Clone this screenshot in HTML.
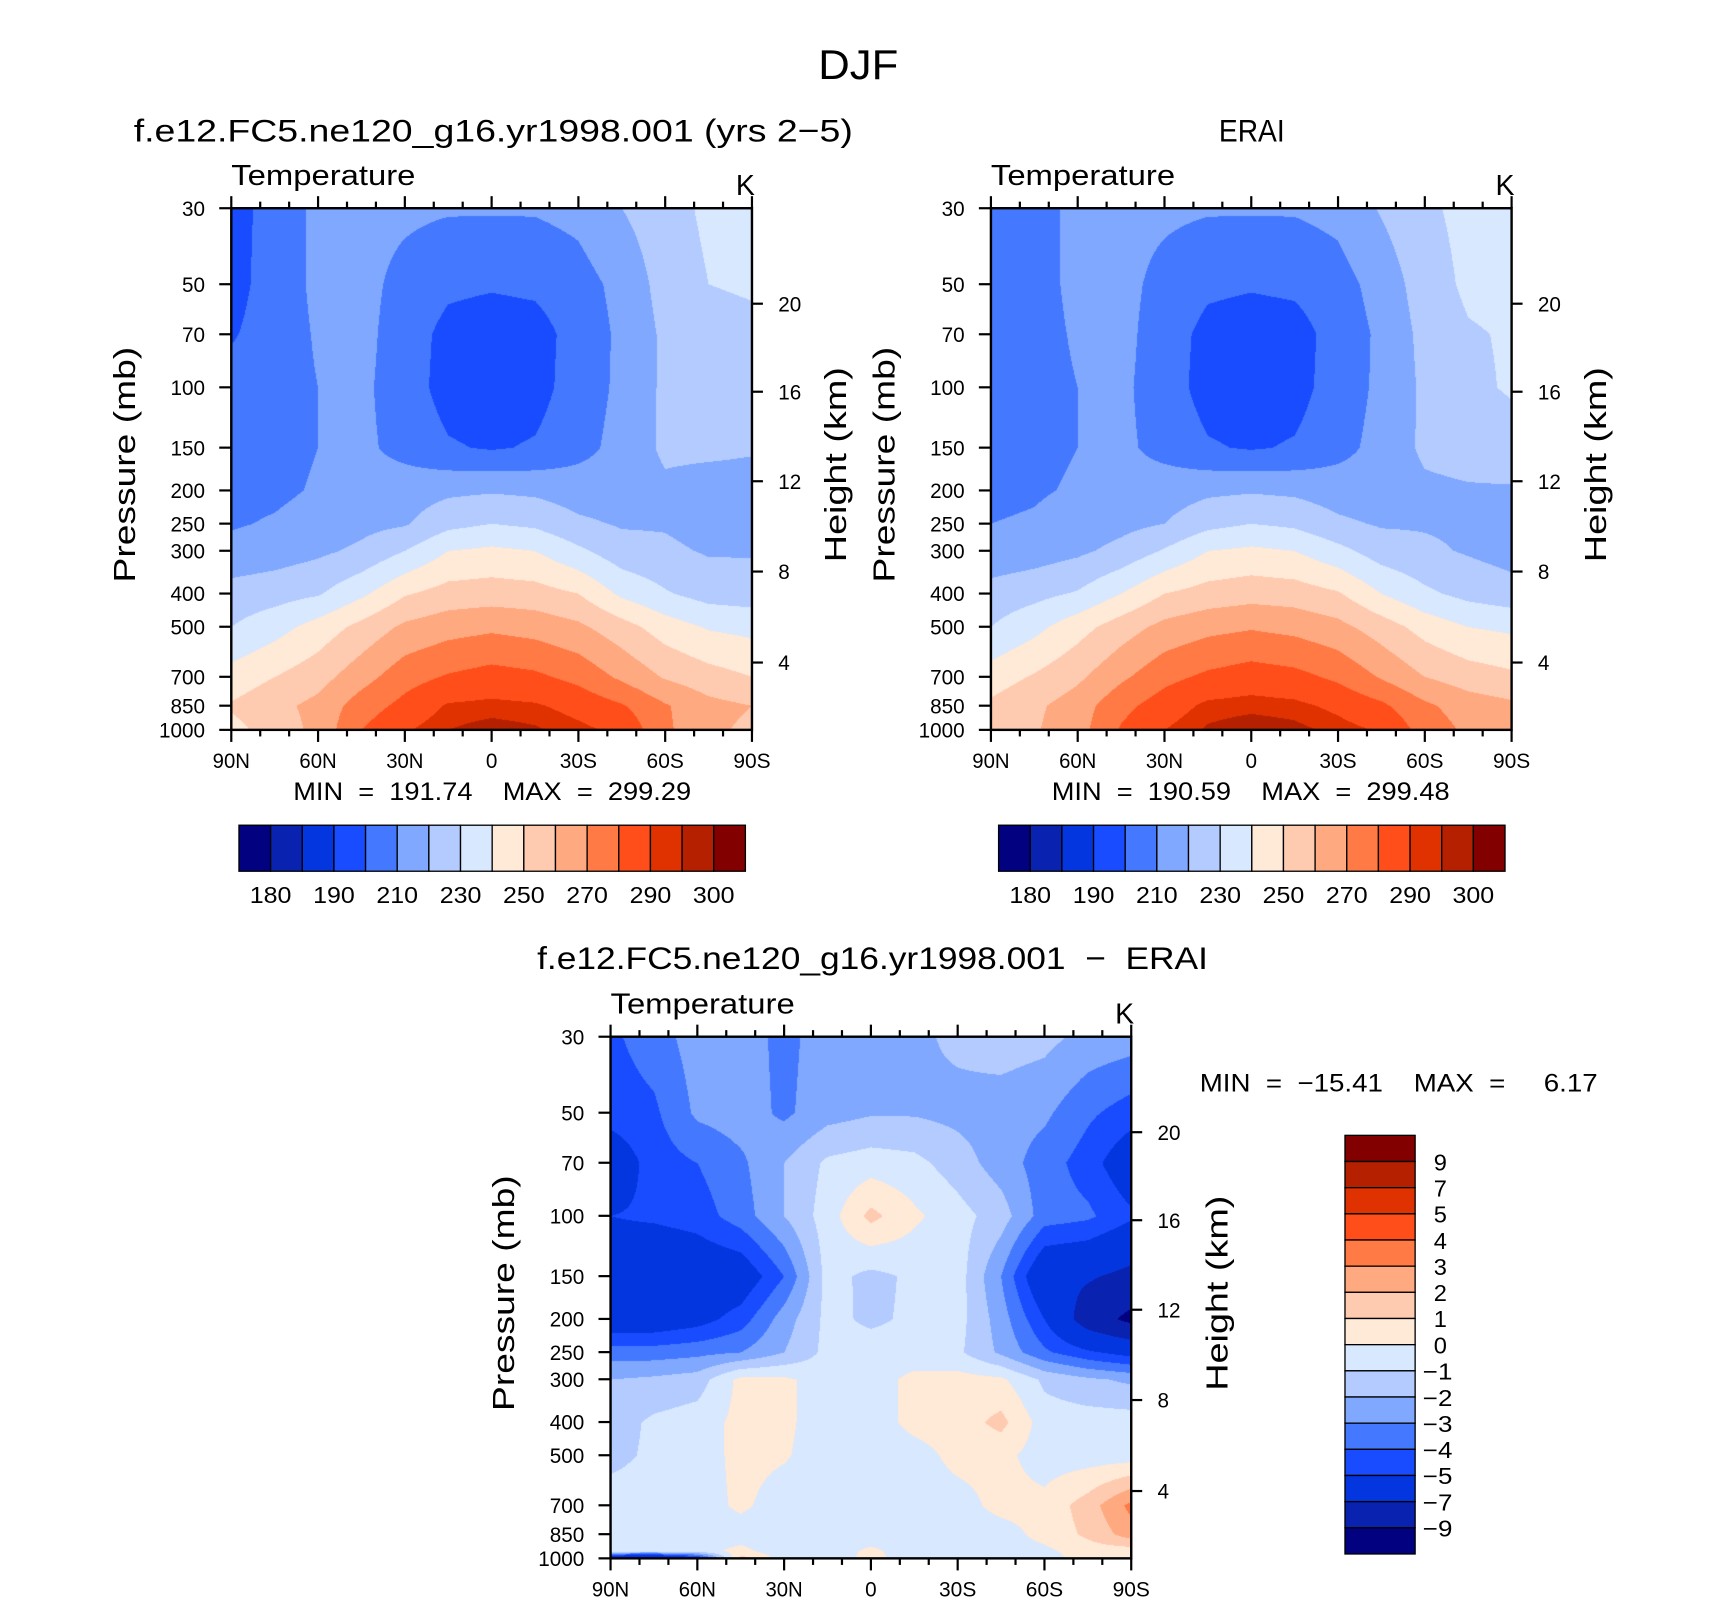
<!DOCTYPE html>
<html><head><meta charset="utf-8">
<style>
html,body{margin:0;padding:0;background:#fff;}
#wrap{position:relative;width:1710px;height:1600px;overflow:hidden;}
#cv,#sv{position:absolute;left:0;top:0;}
text{font-family:"Liberation Sans",sans-serif;fill:#000;}
</style></head>
<body>
<div id="wrap">
<canvas id="cv" width="1710" height="1600"></canvas>
<svg id="sv" width="1710" height="1600" viewBox="0 0 1560 1460" preserveAspectRatio="none"></svg>
</div>
<script>
const lats = [90,75,60,45,30,15,0,-15,-30,-45,-60,-75,-90];
const latLabels = ["90N","60N","30N","0","30S","60S","90S"];
const latTicks = [90,60,30,0,-30,-60,-90];
const pLevels = [30,50,70,100,150,200,250,300,400,500,700,850,1000];
const pTickLabels = [30,50,70,100,150,200,250,300,400,500,700,850,1000];
const hTickLabels = [20,16,12,8,4];
const hTickP = [57,103,188,345,636];
const absLevels = [180,185,190,200,210,220,230,240,250,260,270,280,290,295,300];
const absLabels = ["180","190","210","230","250","270","290","300"];
const diffLevels = [-9,-7,-5,-4,-3,-2,-1,0,1,2,3,4,5,7,9];
const diffLabels = ["9","7","5","4","3","2","1","0","\u22121","\u22122","\u22123","\u22124","\u22125","\u22127","\u22129"];
const colors = ["#020280","#0a22b0","#0436e0","#1a4cff","#4478ff","#80a8ff","#b3cbff","#d7e8ff","#ffe9d7","#ffcbb0","#ffa980","#ff7a45","#ff4e1a","#e03200","#b42000","#820000"];

const modelT = [
[195,205,212,213,212,211,211,211,213,220,226,232,236],
[196,205,212,213,207,202,201,202,206,213,224,230,231],
[199,205,211,213,205,197,195,196,204,212,222,227,228],
[204,206,210,212,205,196,195,196,205,212,222,226,227],
[206,207,210,212,207,201,199,201,207,213,222,222,221],
[207,208,211,213,215,218,219,218,215,214,218,216,216],
[209,211,214,217,219,227,230,228,222,219,219,216,216],
[213,215,218,222,230,240,242,240,232,224,222,219,219],
[224,226,229,238,249,254,255,254,250,238,231,226,225],
[230,236,244,253,262,266,268,266,262,254,245,239,237],
[244,250,256,266,276,281,284,282,277,268,259,254,250],
[251,257,263,275,283,291,292,291,287,281,271,263,260],
[247,254,263,280,289,295,298,296,292,288,272,262,258]];
const eraT = [
[204,207,212,213,212,211,211,211,213,221,228,233,236],
[205,207,212,213,207,202,201,202,206,214,225,232,233],
[205,207,211,213,205,197,195,196,204,212,223,229,231],
[206,207,210,212,205,196,195,196,205,212,222,228,231],
[208,208,210,212,207,201,199,201,207,213,222,224,226],
[208,209,211,213,215,218,219,218,215,214,218,219,219],
[210,211,214,217,220,227,230,228,222,219,219,218,216],
[213,215,218,223,231,240,242,240,233,225,222,219,216],
[224,227,231,240,250,254,256,255,251,240,232,227,224],
[230,237,246,255,263,267,269,267,263,255,246,240,238],
[245,251,258,268,277,282,285,283,278,269,260,255,252],
[252,258,265,277,285,292,293,292,288,282,272,265,262],
[254,259,266,281,290,296,299,297,293,289,276,268,264]];
const diffPLevels = [30,50,70,100,150,200,250,300,400,500,700,850,950,1000];
const diffT = [
[-4.2,-3.5,-2.5,-2.5,-3.3,-2.5,-2.3,-2.2,-1.8,-1.5,-1.7,-2.3,-2.5],
[-4.5,-4.2,-2.8,-2.5,-3.2,-2.4,-2.1,-2.1,-2.3,-2.5,-2.8,-3.8,-4.5],
[-6,-4.5,-4,-3.2,-2,-0.8,-0.5,-0.7,-1.5,-2.5,-3.5,-4.5,-6],
[-5,-4.8,-4.5,-3.5,-2,-0.5,1.3,0.2,-0.6,-1.5,-3.5,-3.8,-4.8],
[-6,-6.5,-6.2,-6,-4,-0.6,-1.3,-0.8,-0.5,-3,-6.5,-6.8,-7.5],
[-6,-6,-5.5,-4.5,-2.5,-0.7,-1.2,-0.8,-0.6,-2.5,-5,-8,-9.5],
[-3.5,-3.5,-3.3,-3,-2,-0.7,-0.5,-0.6,-0.8,-2.2,-3.8,-4.8,-5.5],
[-2,-1.8,-1.5,0.3,0.2,-0.5,-0.5,0.3,0.4,0.2,-1.2,-1.8,-2.2],
[-1.5,-0.8,-0.5,0.3,0.2,-0.5,-0.5,0.3,0.5,1.3,-0.5,-0.5,-0.5],
[-1.3,-0.8,-0.5,0.3,0.1,-0.5,-0.6,-0.4,0.3,0.3,-0.5,-0.5,-0.5],
[-0.5,-0.5,-0.5,0.2,-0.5,-0.5,-0.5,-0.5,-0.4,0.3,0.3,1.5,3.3],
[-0.5,-0.5,-0.4,-0.5,-0.6,-0.5,-0.5,-0.5,-0.5,-0.4,0.3,1.2,2.5],
[-0.5,-0.5,-0.4,0.3,-0.6,-0.5,0.2,-0.5,-0.5,-0.4,-0.2,0.5,0.5],
[-8,-9,-6,1.5,-0.5,-0.5,0.3,-0.5,-0.5,-0.5,-0.5,0.5,0.5]];

const S = 1710/1560;
const NS = "http://www.w3.org/2000/svg";
const svg = document.getElementById('sv');
const ctx = document.getElementById('cv').getContext('2d');
const img = ctx.createImageData(1710,1600);
for(let i=0;i<img.data.length;i++) img.data[i]=255;

function el(tag, attrs, parent){const e=document.createElementNS(NS,tag);for(const k in attrs)e.setAttribute(k,attrs[k]);(parent||svg).appendChild(e);return e;}
function txt(x,y,s,size,anchor,parent,rot,len){const t=el('text',{x:x,y:y,'font-size':size,'text-anchor':anchor||'middle'},parent);if(rot)t.setAttribute('transform','rotate(-90 '+x+' '+y+')');if(len){t.setAttribute('textLength',len);t.setAttribute('lengthAdjust','spacingAndGlyphs');}t.textContent=s;return t;}
function numLen(s){let w=0;for(const ch of s){w+=(ch==='N'||ch==='S')?13:(ch==='\u2212'?12:10.5);}return w;}
function hex(c){return [parseInt(c.substr(1,2),16),parseInt(c.substr(3,2),16),parseInt(c.substr(5,2),16)];}
const rgb = colors.map(hex);
function bandOf(v,levels){let k=0;while(k<levels.length&&v>=levels[k])k++;return k;}

function makePanel(P){
  const L=P.x,T=P.y,W=P.w,H=P.h;
  const lp0=Math.log(30),lp1=Math.log(1000);
  const yOfP=p=>T+(Math.log(p)-lp0)/(lp1-lp0)*H;
  const xOfLat=lat=>L+(90-lat)/180*W;
  const gl=P.plev.map(p=>Math.log(p));
  const x0=Math.round(L*S),x1=Math.round((L+W)*S),y0=Math.round(T*S),y1=Math.round((T+H)*S);
  for(let py=y0;py<y1;py++){
    const yy=(py+0.5)/S;
    const lp=lp0+(yy-T)/H*(lp1-lp0);
    let r=0;while(r<gl.length-2&&lp>gl[r+1])r++;
    let fy=(lp-gl[r])/(gl[r+1]-gl[r]);fy=Math.max(0,Math.min(1,fy));
    for(let px=x0;px<x1;px++){
      const xx=(px+0.5)/S;
      const lat=90-(xx-L)/W*180;
      let c=0;while(c<lats.length-2&&lat<lats[c+1])c++;
      let fx=(lats[c]-lat)/(lats[c]-lats[c+1]);fx=Math.max(0,Math.min(1,fx));
      const g=P.grid;
      const v=(g[r][c]*(1-fx)+g[r][c+1]*fx)*(1-fy)+(g[r+1][c]*(1-fx)+g[r+1][c+1]*fx)*fy;
      const col=rgb[bandOf(v,P.levels)];
      const i=(py*1710+px)*4;
      img.data[i]=col[0];img.data[i+1]=col[1];img.data[i+2]=col[2];img.data[i+3]=255;
    }
  }
  const g=el('g',{});
  
  
  const fr=el('rect',{x:L,y:T,width:W,height:H,fill:'none',stroke:'#000','stroke-width':2.2},g);
  
  
  pTickLabels.forEach(p=>{const y=yOfP(p);
    el('line',{x1:L-11,x2:L,y1:y,y2:y,stroke:'#000','stroke-width':2},g);
    const s=String(p);
    const t=txt(L-24,y+7,s,19,'end',g,false,numLen(s));
    
    });
  hTickP.forEach((p,i)=>{const y=yOfP(p);
    el('line',{x1:L+W,x2:L+W+10,y1:y,y2:y,stroke:'#000','stroke-width':2},g);
    const s=String(hTickLabels[i]);
    const t=txt(L+W+24,y+7,s,19,'start',g,false,numLen(s));
    
    });
  for(let lat=90;lat>=-90;lat-=10){const x=xOfLat(lat);const major=lat%30===0;const len=major?11:6;
    el('line',{x1:x,x2:x,y1:T+H,y2:T+H+len,stroke:'#000','stroke-width':2},g);
    el('line',{x1:x,x2:x,y1:T,y2:T-len,stroke:'#000','stroke-width':2},g);}
  latTicks.forEach((lat,i)=>{const s=latLabels[i];const t=txt(xOfLat(lat),T+H+35,s,19,'middle',g,false,numLen(s));
    
    });
  const a=txt(L,T-21,'Temperature',26,'start',g,false,168);
  
  
  const k=txt(L+W-6,T-12,'K',26,'middle',g);
  
  
  const py=txt(P.px,T+H/2-4,'Pressure  (mb)',28,'middle',g,true,215);
  
  
  const hy=txt(P.hx,T+H/2-4,'Height  (km)',28,'middle',g,true,178);
  
  
}

makePanel({name:'model-panel',x:211,y:190,w:475,h:476,grid:modelT,plev:pLevels,levels:absLevels,px:123,hx:772});
makePanel({name:'erai-panel',x:904,y:190,w:475,h:476,grid:eraT,plev:pLevels,levels:absLevels,px:816,hx:1465});
makePanel({name:'difference-panel',x:557,y:946,w:475,h:476,grid:diffT,plev:diffPLevels,levels:diffLevels,px:469,hx:1120});
ctx.putImageData(img,0,0);

function hColorbar(x,y,w,h,name){
  const g=el('g',{});
  
  
  const bw=w/colors.length;
  colors.forEach((c,i)=>{const r=el('rect',{x:x+i*bw,y:y,width:bw,height:h,fill:c,stroke:'#000','stroke-width':1.2},g);
    
    });
  absLabels.forEach((s,i)=>{const t=txt(x+(1+2*i)*bw,y+h+29,s,21,'middle',g,false,38);
    
    });
}
hColorbar(218,753,462,42,'model-colorbar');
hColorbar(911,753,462,42,'erai-colorbar');
(function(){
  const x=1227,y=1036,w=64,h=382;
  const g=el('g',{});
  
  
  const bh=h/colors.length;
  colors.slice().reverse().forEach((c,i)=>{const r=el('rect',{x:x,y:y+i*bh,width:w,height:bh,fill:c,stroke:'#000','stroke-width':1.2},g);
    
    });
  diffLabels.forEach((s,i)=>{const t=txt(x+(s.length>1?71:81),y+(i+1)*bh+8,s,21,'start',g,false,s.length>1?27:12);
    
    });
})();

(function(){
  function T(x,y,s,size,name,len){const t=document.createElementNS(NS,'text');
    t.setAttribute('x',x);t.setAttribute('y',y);t.setAttribute('font-size',size);t.setAttribute('text-anchor','middle');
    t.style.whiteSpace='pre';
    if(len){t.setAttribute('textLength',len);t.setAttribute('lengthAdjust','spacingAndGlyphs');}
    
    
    t.textContent=s;svg.appendChild(t);}
  T(783,72,'DJF',38,'figure-title',73);
  T(450,129,'f.e12.FC5.ne120_g16.yr1998.001 (yrs 2\u22125)',29,'model-panel-title',656);
  T(1142,129,'ERAI',29,'erai-panel-title',60);
  T(796,884,'f.e12.FC5.ne120_g16.yr1998.001  \u2212  ERAI',29,'difference-panel-title',612);
  T(449,730,'MIN  =  191.74    MAX  =  299.29',23,'model-minmax',363);
  T(1141,730,'MIN  =  190.59    MAX  =  299.48',23,'erai-minmax',363);
  T(1276,996,'MIN  =  \u221215.41    MAX  =     6.17',23,'difference-minmax',363);
})();
</script>
</body></html>
